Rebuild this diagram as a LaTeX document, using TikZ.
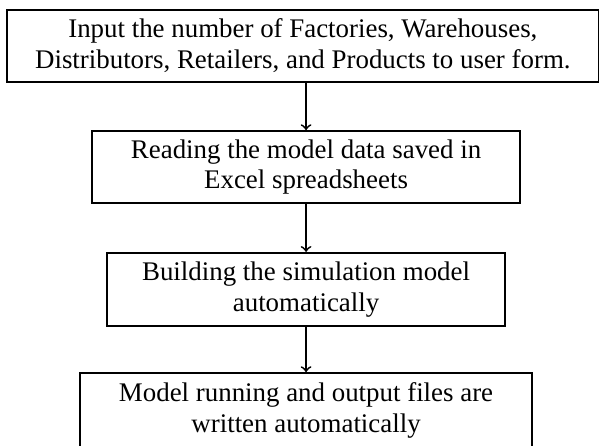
\documentclass[tikz,border=0pt]{standalone}
\usepackage{fontspec}
\setmainfont{Liberation Serif}
\usetikzlibrary{positioning}
\tikzset{
    block/.style={
        draw, thick, inner sep = 0pt,
        minimum height = 1.13cm,
        align = center,
        font = \fontsize{12pt}{13.8pt}\selectfont
    },
    line/.style = {->, thick}
}

\begin{document}
\begin{tikzpicture}

    % Page frame
    \useasboundingbox (0,0) rectangle (9.41,6.98);

    % Steps
    \node[block, minimum width = 9.27cm] (input) at (4.75,6.26)
        {Input the number of Factories, Warehouses,\\ Distributors, Retailers, and Products to user form.};
    \node[block, minimum width = 6.71cm] (read) at (4.80,4.36)
        {Reading the model data saved in\\ Excel spreadsheets};
    \node[block, minimum width = 6.24cm, minimum height = 1.15cm] (build) at (4.80,2.44)
        {Building the simulation model\\ automatically};
    \node[block, minimum width = 7.09cm, minimum height = 1.16cm] (run) at (4.80,0.55)
        {Model running and output files are\\ written automatically};

    % Arrows
    \draw[line] (input.south -| read.north) -- (read.north);
    \draw[line] (read) -- (build);
    \draw[line] (build) -- (run);

\end{tikzpicture}
\end{document}
